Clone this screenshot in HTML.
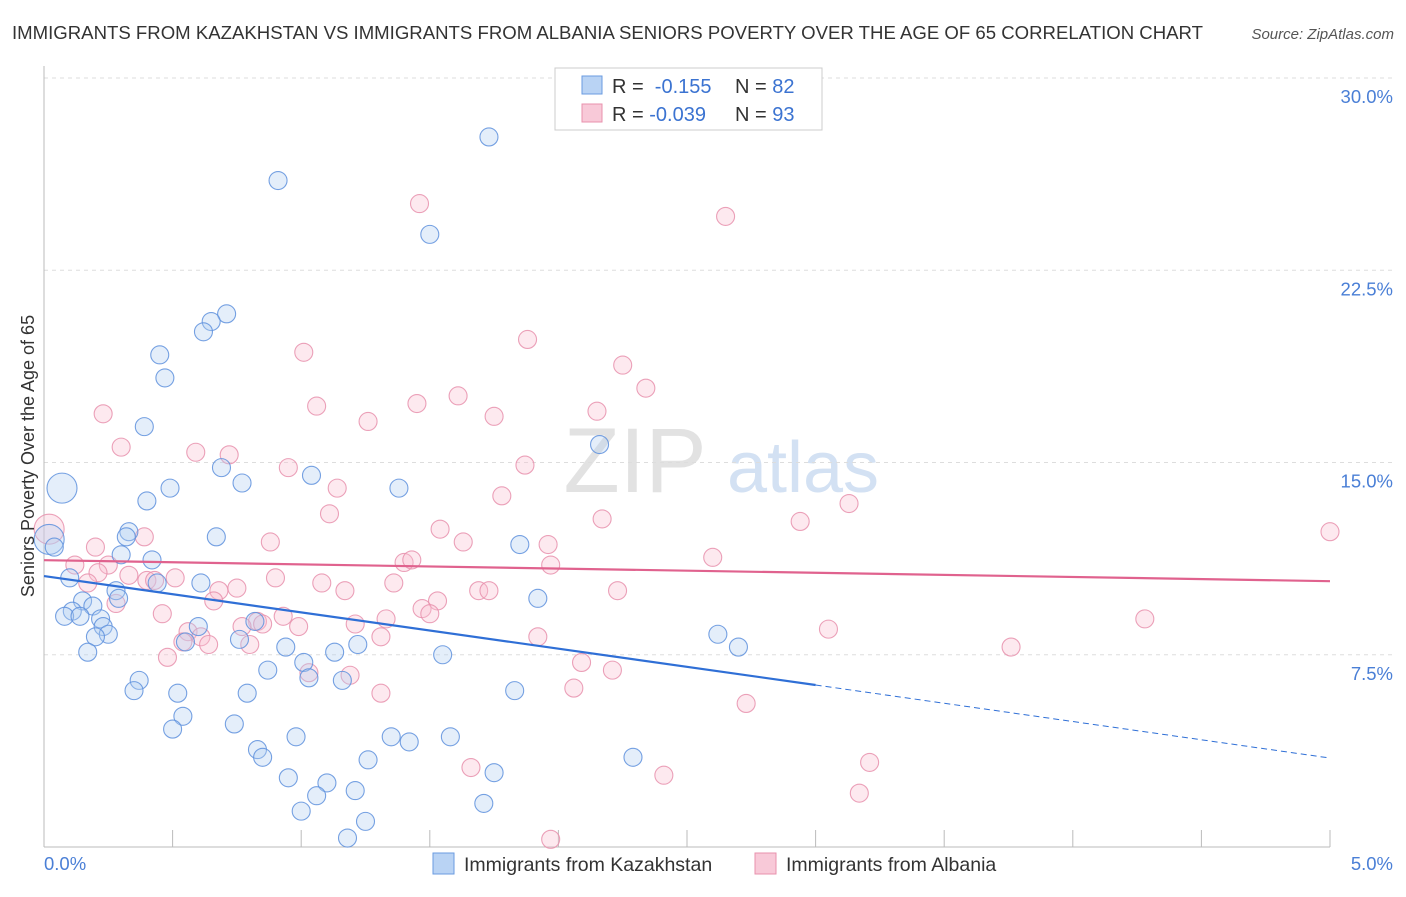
<!DOCTYPE html>
<html><head><meta charset="utf-8"><style>
body{margin:0;background:#fff;font-family:"Liberation Sans",sans-serif}
svg text{font-family:"Liberation Sans",sans-serif}
</style></head><body>
<svg width="1406" height="892" viewBox="0 0 1406 892">
<text x="12" y="39" font-size="18.5" fill="#333" textLength="1191" lengthAdjust="spacingAndGlyphs">IMMIGRANTS FROM KAZAKHSTAN VS IMMIGRANTS FROM ALBANIA SENIORS POVERTY OVER THE AGE OF 65 CORRELATION CHART</text>
<text x="1394" y="39" font-size="15" fill="#555" font-style="italic" text-anchor="end">Source: ZipAtlas.com</text>
<g><text x="635" y="492" font-size="92" fill="#e2e2e2" font-family="Liberation Serif" text-anchor="middle">ZIP</text><text x="803" y="492" font-size="72" fill="#d3e1f3" text-anchor="middle">atlas</text></g>
<g id="grid"></g>
<g id="axes"></g>
<g id="marks"></g>
<text transform="translate(34,456) rotate(-90)" font-size="18" fill="#333" text-anchor="middle">Seniors Poverty Over the Age of 65</text>
<g>
<rect x="555" y="68" width="267" height="62" fill="#fff" stroke="#ccc"/>
<rect x="582" y="76" width="20" height="18" fill="#b9d3f4" stroke="#6a9be0"/>
<rect x="582" y="104" width="20" height="18" fill="#f8c9d8" stroke="#e891ad"/>
<text x="612" y="93" font-size="20" fill="#333">R = <tspan fill="#3b73d1">&#160;-0.155</tspan><tspan x="735">N = </tspan><tspan fill="#3b73d1">82</tspan></text>
<text x="612" y="121" font-size="20" fill="#333">R = <tspan fill="#3b73d1">-0.039</tspan><tspan x="735">N = </tspan><tspan fill="#3b73d1">93</tspan></text>
</g>
<g>
<rect x="433" y="853" width="21" height="21" fill="#b9d3f4" stroke="#6a9be0"/>
<text x="464" y="871" font-size="19.5" fill="#333">Immigrants from Kazakhstan</text>
<rect x="755" y="853" width="21" height="21" fill="#f8c9d8" stroke="#e891ad"/>
<text x="786" y="871" font-size="19.5" fill="#333">Immigrants from Albania</text>
</g>
</svg>
<script>
const yTicks=[7.5,15,22.5,30];
const yTickLabels=["7.5%","15.0%","22.5%","30.0%"];
const xTickLabels=["0.0%","5.0%"];
const blueX=[1.73,0.91,1.50,0.71,0.65,0.62,0.45,0.47,0.39,2.16,0.69,1.04,0.07,0.49,0.77,1.38,0.40,0.33,0.32,0.67,1.85,0.02,0.04,0.42,0.30,0.10,0.44,0.61,0.28,0.29,1.92,0.15,0.19,0.11,0.08,0.14,0.22,0.23,0.60,0.82,0.25,0.20,0.76,0.55,2.62,2.70,1.22,0.17,0.94,1.13,1.55,1.01,0.87,1.03,0.37,1.16,0.35,0.52,0.79,1.83,0.54,0.74,0.50,1.35,1.58,0.98,1.42,0.83,0.85,1.26,2.29,1.75,0.95,1.10,1.06,1.21,1.71,1.00,1.25,1.18];
const blueY=[27.7,26.0,23.9,20.8,20.5,20.1,19.2,18.3,16.4,15.7,14.8,14.5,14.0,14.0,14.2,14.0,13.5,12.3,12.1,12.1,11.8,12.0,11.7,11.2,11.4,10.5,10.3,10.3,10.0,9.7,9.7,9.6,9.4,9.2,9.0,9.0,8.9,8.6,8.6,8.8,8.3,8.2,8.1,8.0,8.3,7.8,7.9,7.6,7.8,7.6,7.5,7.2,6.9,6.6,6.5,6.5,6.1,6.0,6.0,6.1,5.1,4.8,4.6,4.3,4.3,4.3,4.1,3.8,3.5,3.4,3.5,2.9,2.7,2.5,2.0,2.2,1.7,1.4,1.0,0.35];
const pinkX=[1.46,2.65,1.88,1.01,2.25,2.34,1.61,1.45,1.06,0.23,1.75,2.15,1.26,0.30,0.59,0.72,1.87,0.95,1.14,1.78,3.13,1.11,2.17,2.94,1.54,5.0,0.02,0.39,1.63,0.88,0.20,1.96,2.60,1.40,1.43,1.97,0.12,0.25,0.21,0.51,0.90,0.33,0.40,0.43,0.17,1.08,1.36,0.75,1.17,0.68,1.69,1.73,2.23,0.66,0.28,1.53,1.47,1.50,0.46,0.93,1.33,4.28,0.83,0.85,1.21,0.99,0.77,3.05,0.56,1.92,0.61,1.31,0.64,0.54,0.80,3.76,0.48,2.09,2.21,1.03,1.19,1.31,2.06,2.73,3.21,1.66,2.41,3.17,1.97];
const pinkY=[25.1,24.6,19.8,19.3,18.8,17.9,17.6,17.3,17.2,16.9,16.8,17.0,16.6,15.6,15.4,15.3,14.9,14.8,14.0,13.7,13.4,13.0,12.8,12.7,12.4,12.3,12.4,12.1,11.9,11.9,11.7,11.8,11.3,11.1,11.2,11.0,11.0,11.0,10.7,10.5,10.5,10.6,10.4,10.4,10.3,10.3,10.3,10.1,10.0,10.0,10.0,10.0,10.0,9.6,9.5,9.6,9.3,9.1,9.1,9.0,8.9,8.9,8.8,8.7,8.7,8.6,8.6,8.5,8.4,8.2,8.2,8.2,7.9,8.0,7.9,7.8,7.4,7.2,6.9,6.8,6.7,6.0,6.2,5.6,3.3,3.1,2.8,2.1,0.3];
const blueTrend=[10.57,6.32,3.47]; // at x=0,3,5
const pinkTrend=[11.19,10.37]; // at x=0,5
const NS="http://www.w3.org/2000/svg";
const X0=44,X1=1330,Y0=847,Y30=78;
const sx=v=>X0+(X1-X0)*v/5;
const sy=v=>Y0-(Y0-Y30)*v/30;
function mk(tag,attrs,parent){const e=document.createElementNS(NS,tag);for(const k in attrs)e.setAttribute(k,attrs[k]);parent.appendChild(e);return e;}
const grid=document.getElementById('grid'),axes=document.getElementById('axes'),marks=document.getElementById('marks');
yTicks.forEach((t,i)=>{
 const l=mk('line',{x1:X0,x2:1394,y1:sy(t),y2:sy(t),stroke:'#ddd','stroke-dasharray':'4,4'},grid);
 
 
 const tx=mk('text',{x:1393,y:sy(t)+25,'font-size':18.5,fill:'#4a7fd6','text-anchor':'end'},axes);
 tx.textContent=yTickLabels[i];
 
 
});
const ax=mk('line',{x1:X0,x2:X0,y1:66,y2:Y0,stroke:'#bbb'},axes);


const bx=mk('line',{x1:X0,x2:X1,y1:Y0,y2:Y0,stroke:'#bbb'},axes);


for(let i=0;i<=10;i++){const t=mk('line',{x1:sx(i/2),x2:sx(i/2),y1:Y0,y2:Y0-17,stroke:'#bbb'},axes);
 
 }
[[0,'start',44],[5,'end',1393]].forEach((d,i)=>{const t=mk('text',{x:d[2],y:870,'font-size':18.5,fill:'#4a7fd6','text-anchor':d[1]},axes);t.textContent=xTickLabels[i];
 
 });
function dots(xs,ys,fill,stroke,name){xs.forEach((x,i)=>{const big=(x<0.1&&(ys[i]>11.8||ys[i]>13.8))?15:9;
 const c=mk('circle',{cx:sx(x),cy:sy(ys[i]),r:big,fill:fill,'fill-opacity':0.35,stroke:stroke,'stroke-width':1.1,'stroke-opacity':0.85},marks);
 
 });}
dots(pinkX,pinkY,'#f8c0d2','#e891ad','point-albania');
dots(blueX,blueY,'#b3cef2','#5e91dd','point-kazakhstan');
const pl=mk('line',{x1:sx(0),y1:sy(pinkTrend[0]),x2:sx(5),y2:sy(pinkTrend[1]),stroke:'#e0628e','stroke-width':2.2},marks);


const bl=mk('line',{x1:sx(0),y1:sy(blueTrend[0]),x2:sx(3),y2:sy(blueTrend[1]),stroke:'#2f6fd6','stroke-width':2.2},marks);


const bd=mk('line',{x1:sx(3),y1:sy(blueTrend[1]),x2:sx(5),y2:sy(blueTrend[2]),stroke:'#2f6fd6','stroke-width':1,'stroke-dasharray':'6,4'},marks);


</script>
</body></html>
